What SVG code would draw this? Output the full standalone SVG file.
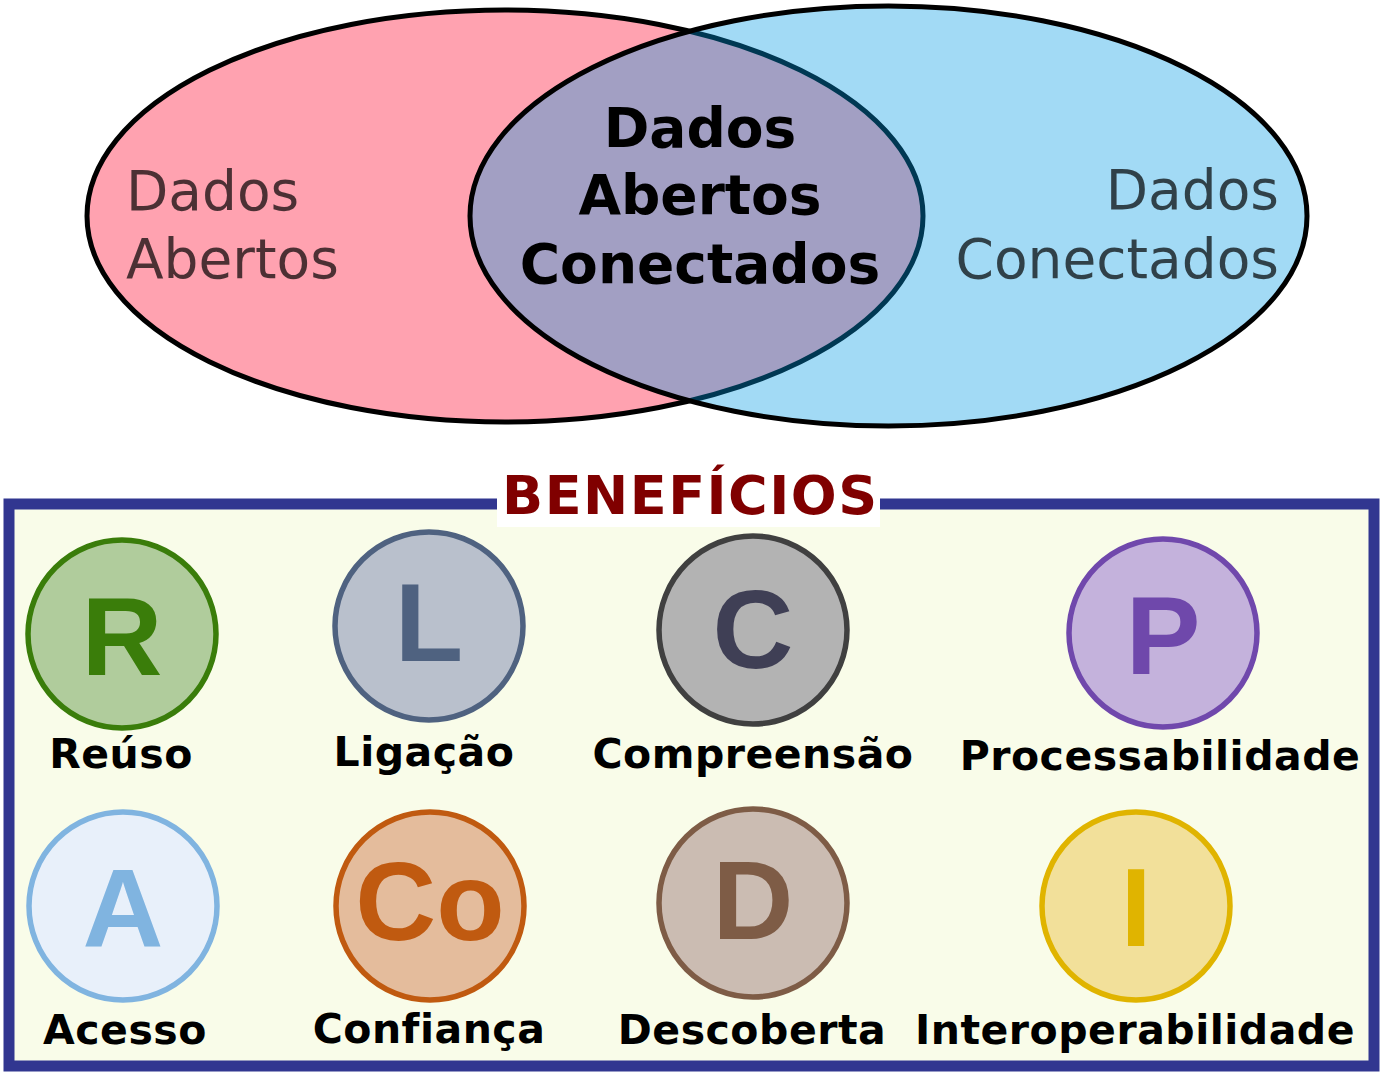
<svg xmlns="http://www.w3.org/2000/svg" width="1382" height="1074" viewBox="0 0 1382 1074">
<style>
.side{font-family:"DejaVu Sans",sans-serif;font-size:55px;fill:#000;fill-opacity:0.7}
.mid{font-family:"DejaVu Sans",sans-serif;font-size:55px;font-weight:bold;fill:#000;text-anchor:middle}
.title{font-family:"DejaVu Sans",sans-serif;font-size:54px;font-weight:bold;fill:#800000;letter-spacing:1.5px}
.lbl{font-family:"DejaVu Sans",sans-serif;font-size:41px;font-weight:bold;fill:#000;text-anchor:middle;letter-spacing:0.5px}
.let{font-family:"Liberation Sans",Arial,sans-serif;font-size:112px;font-weight:bold;text-anchor:middle}
.c{stroke-width:5.5}
</style>
<rect width="1382" height="1074" fill="#fff"/>
<g id="venn">
<ellipse id="abertos" cx="505" cy="216" rx="418" ry="206" fill="#ffa2b0" stroke="#000" stroke-width="5"/>
<ellipse id="conectados" cx="888.5" cy="216" rx="418.5" ry="210" fill="#0099e3" fill-opacity="0.365" stroke="#000" stroke-width="5"/>
<text class="side" x="126" y="210">Dados</text>
<text class="side" x="126" y="278">Abertos</text>
<text class="side" x="1279" y="209" text-anchor="end">Dados</text>
<text class="side" x="1279" y="278" text-anchor="end">Conectados</text>
<text class="mid" x="700" y="147">Dados</text>
<text class="mid" x="700" y="214">Abertos</text>
<text class="mid" x="700" y="283">Conectados</text>
</g>
<g id="beneficios">
<rect x="9" y="504" width="1365" height="562" fill="#f9fce9" stroke="#313690" stroke-width="11"/>
<rect x="497" y="468" width="383" height="59" fill="#fff"/>
<text class="title" x="502" y="514">BENEFÍCIOS</text>
</g>
<g id="connectors"></g>
<g id="reuso">
<circle class="c" cx="122" cy="634" r="94" fill="#b0cc9c" stroke="#3a7d0a"/>
<text class="let" x="122" y="675" fill="#3a7d0a">R</text>
<text class="lbl" x="121" y="768">Reúso</text>
</g>
<g id="ligacao">
<circle class="c" cx="429" cy="626" r="94" fill="#b9c0cc" stroke="#4f6280"/>
<text class="let" x="429" y="661" fill="#4f6280">L</text>
<text class="lbl" x="424" y="766">Ligação</text>
</g>
<g id="compreensao">
<circle class="c" cx="753" cy="630" r="94" fill="#b3b3b3" stroke="#404040"/>
<text class="let" x="753" y="668" fill="#3f3f55">C</text>
<text class="lbl" x="753" y="768">Compreensão</text>
</g>
<g id="processabilidade">
<circle class="c" cx="1163" cy="633" r="94" fill="#c4b2dc" stroke="#7048ac"/>
<text class="let" x="1163" y="674" fill="#6f48ab">P</text>
<text class="lbl" x="1160" y="770">Processabilidade</text>
</g>
<g id="acesso">
<circle class="c" cx="123" cy="906" r="94" fill="#e8f0fa" stroke="#80b4e0"/>
<text class="let" x="123" y="947" fill="#80b4e0">A</text>
<text class="lbl" x="125" y="1044">Acesso</text>
</g>
<g id="confianca">
<circle class="c" cx="430" cy="906" r="94" fill="#e4bc9c" stroke="#c05a10"/>
<text class="let" x="430" y="940" fill="#c05a10">Co</text>
<text class="lbl" x="429" y="1043">Confiança</text>
</g>
<g id="descoberta">
<circle class="c" cx="753" cy="903" r="94" fill="#cbbcb2" stroke="#7e5c46"/>
<text class="let" x="753" y="939" fill="#7e5c46">D</text>
<text class="lbl" x="752" y="1044">Descoberta</text>
</g>
<g id="interoperabilidade">
<circle class="c" cx="1136" cy="906" r="94" fill="#f2e09a" stroke="#e0b400"/>
<text class="let" x="1136" y="946" fill="#e0b400">I</text>
<text class="lbl" x="1135" y="1044">Interoperabilidade</text>
</g>
</svg>
